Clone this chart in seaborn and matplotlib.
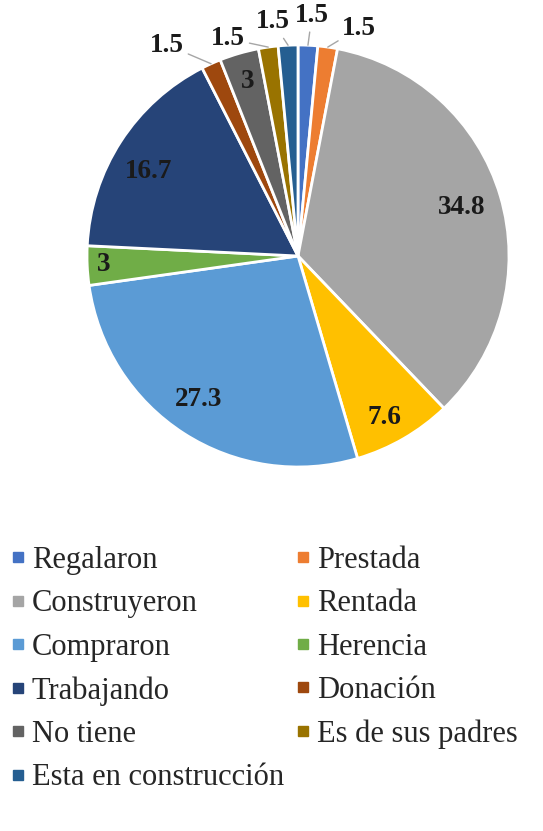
import numpy as np
import matplotlib
matplotlib.use("Agg")
import matplotlib.pyplot as plt
from matplotlib.lines import Line2D
import seaborn as sns

# datos del grafico (porcentajes)
categorias = ["Regalaron", "Prestada", "Construyeron", "Rentada", "Compraron",
              "Herencia", "Trabajando", "Donación", "No tiene",
              "Es de sus padres", "Esta en construcción"]
valores = [1.5, 1.5, 34.8, 7.6, 27.3, 3, 16.7, 1.5, 3, 1.5, 1.5]
etiquetas = ["1.5", "1.5", "34.8", "7.6", "27.3", "3", "16.7", "1.5", "3", "1.5", "1.5"]
colores = ["#4472C4", "#ED7D31", "#A5A5A5", "#FFC000", "#5B9BD5", "#70AD47",
           "#264478", "#9E480E", "#636363", "#997300", "#255E91"]

# posicion de las etiquetas: dentro (fraccion del radio, giro en grados) o fuera (x, y)
dentro = {2: (0.81, 0), 3: (0.87, -2), 4: (0.83, -2), 5: (0.92, 0),
          6: (0.815, 3.3), 8: (0.86, 0)}
fuera = {0: (0.066, 1.14), 1: (0.29, 1.08), 7: (-0.62, 1.0),
         9: (-0.33, 1.03), 10: (-0.12, 1.11)}

sns.set_theme(style="white")
plt.rcParams['font.family'] = ['Liberation Serif', 'DejaVu Serif']

fig = plt.figure(figsize=(5.43, 8.31), dpi=100)
ax = fig.add_axes([87 / 543, (831 - 256 - 211) / 831, 422 / 543, 422 / 831])

wedges, _ = ax.pie(valores, colors=colores, startangle=90, counterclock=False,
                   wedgeprops=dict(edgecolor="white", linewidth=2))
ax.set_xlim(-1, 1)
ax.set_ylim(-1, 1)
ax.set_aspect("equal")
ax.axis("off")

for i, w in enumerate(wedges):
    mid = (w.theta1 + w.theta2) / 2
    if i in dentro:
        r, giro = dentro[i]
        ang = np.deg2rad(mid + giro)
        ax.text(r * np.cos(ang), r * np.sin(ang), etiquetas[i], ha="center",
                va="center", fontsize=19.5, fontweight="bold", color="#1a1a1a")
    else:
        ang = np.deg2rad(mid)
        ax.annotate(etiquetas[i], xy=(np.cos(ang), np.sin(ang)), xytext=fuera[i],
                    ha="center", va="center", fontsize=19.5, fontweight="bold",
                    color="#1a1a1a", annotation_clip=False,
                    bbox=dict(boxstyle="square,pad=0.15", fc="none", ec="none"),
                    arrowprops=dict(arrowstyle="-", color="#A6A6A6", lw=1,
                                    shrinkA=0, shrinkB=0))

# leyenda en dos columnas, orden por filas
orden = [0, 2, 4, 6, 8, 10, 1, 3, 5, 7, 9]
handles = [Line2D([], [], marker="s", linestyle="none", markersize=7.5,
                  markerfacecolor=colores[i], markeredgecolor=colores[i])
           for i in orden]
labels = [categorias[i] for i in orden]
fig.legend(handles, labels, ncol=2, loc="upper left",
           bbox_to_anchor=(10 / 543, 1 - 546 / 831), frameon=False,
           fontsize=22, handlelength=0.5, handletextpad=0.22,
           columnspacing=0.36, labelspacing=0.47, borderpad=0, borderaxespad=0)

fig.savefig("out.png", dpi=100, facecolor="white")
